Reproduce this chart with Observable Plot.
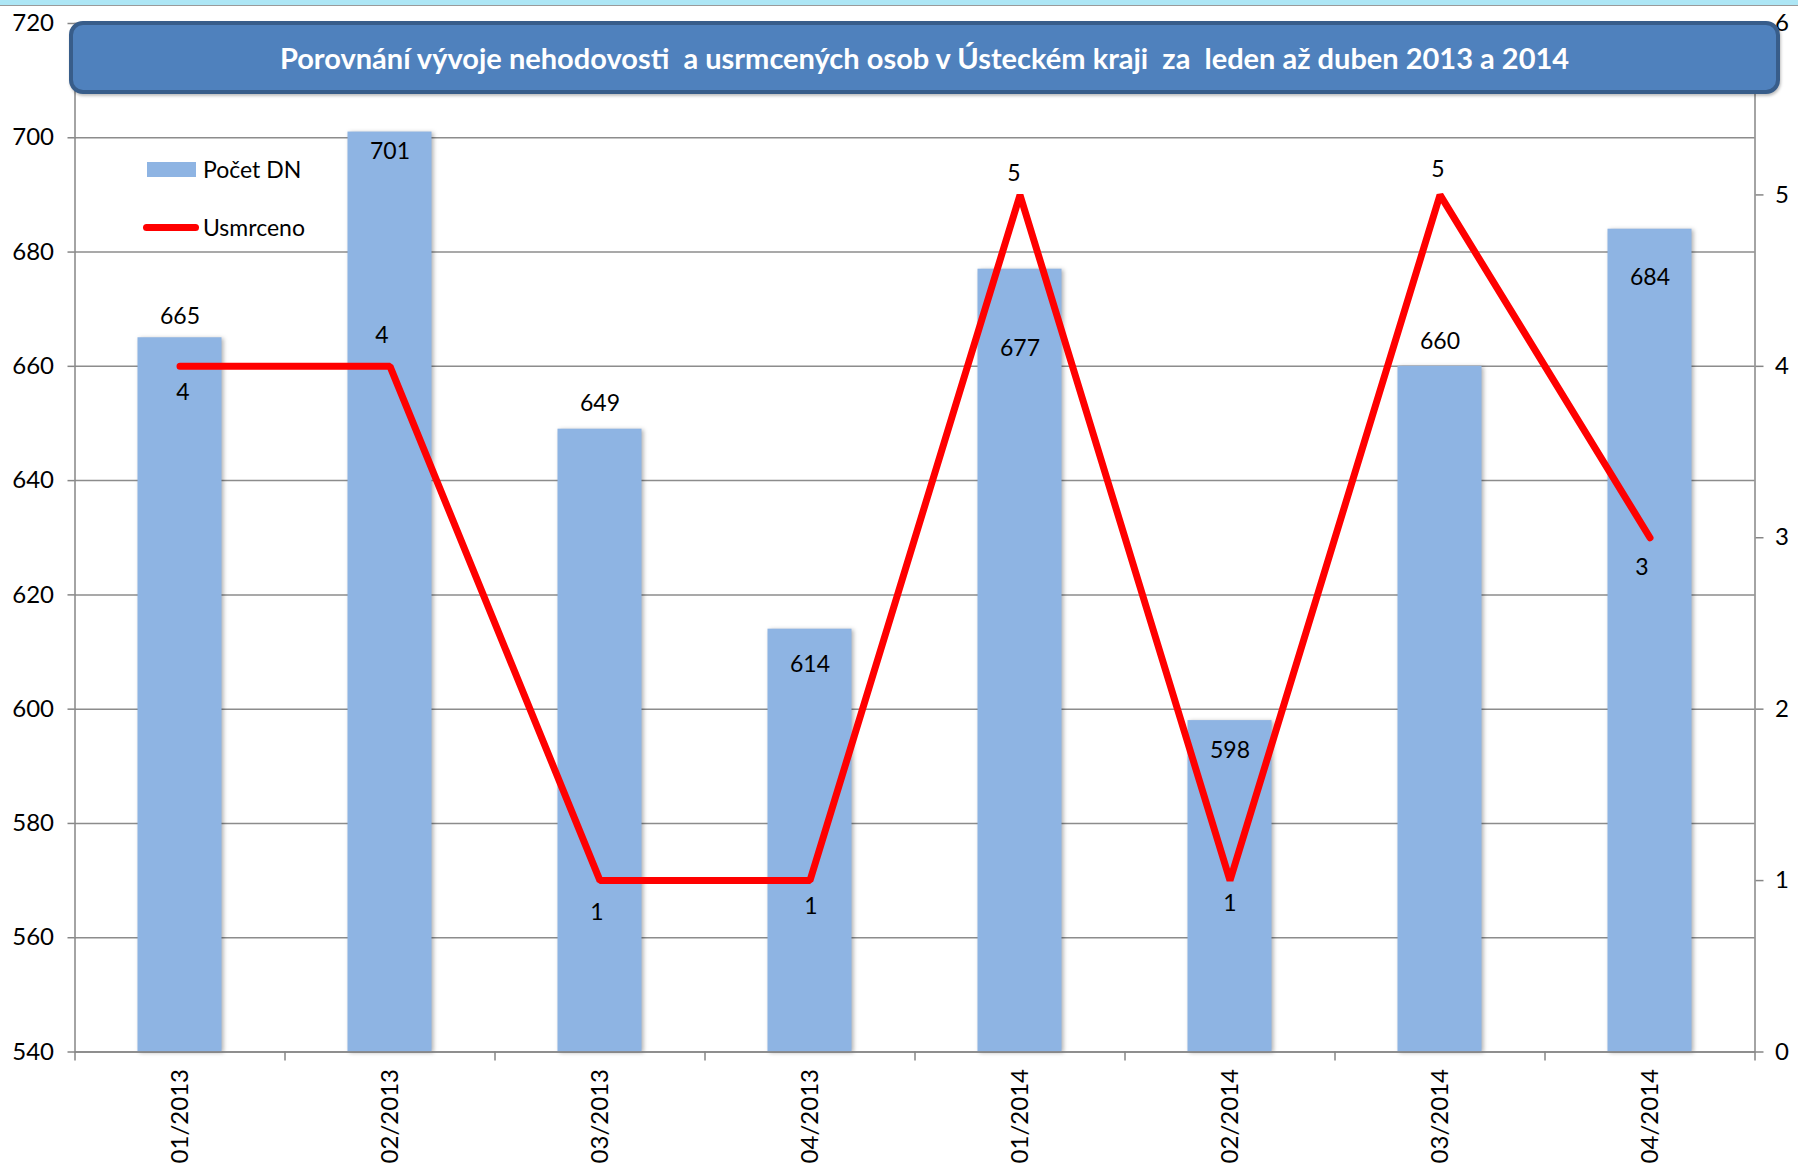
<!DOCTYPE html>
<html><head><meta charset="utf-8">
<script src="https://cdn.jsdelivr.net/npm/d3@7"></script>
<script src="https://cdn.jsdelivr.net/npm/@observablehq/plot@0.6"></script>
<style>
html,body{margin:0;padding:0;background:#fff;width:1798px;height:1168px;overflow:hidden;font-family:Lato,sans-serif}
#wrap{position:relative;width:1798px;height:1168px}
#topstrip{position:absolute;left:0;top:0;width:1798px;height:5px;background:#ade6f5;border-bottom:1px solid #9a9a9a;z-index:3}
#title{position:absolute;left:69px;top:21px;width:1711px;height:73px;box-sizing:border-box;background:#4f81bd;border:4px solid #385d8a;border-radius:14px;color:#fff;font-weight:bold;font-size:29px;display:flex;align-items:center;justify-content:center;white-space:pre;z-index:2;box-shadow:1px 2px 3px rgba(0,0,0,0.25)}
.leg{position:absolute;display:flex;align-items:center;font-size:23px;line-height:23px;color:#000;z-index:2}
#chart{position:absolute;left:0;top:0}
</style></head>
<body><div id="wrap">
<div id="topstrip"></div>
<div id="chart"></div>
<div id="title"></div>
<div class="leg" id="leg1" style="left:147px;top:158px;"><span style="display:inline-block;width:49px;height:15px;background:#8eb4e3;margin-right:7px"></span><span id="l1"></span></div>
<div class="leg" id="leg2" style="left:143px;top:216px;"><span style="display:inline-block;width:56px;height:7px;border-radius:4px;background:#ff0000;margin-right:4px"></span><span id="l2"></span></div>
</div>
<script>
const titleText = "Porovnání vývoje nehodovosti  a usrmcených osob v Ústeckém kraji  za  leden až duben 2013 a 2014";
const seriesNames = ["Počet DN", "Usmrceno"];
const months = ["01/2013","02/2013","03/2013","04/2013","01/2014","02/2014","03/2014","04/2014"];
const accidents = [665, 701, 649, 614, 677, 598, 660, 684];
const killed = [4, 4, 1, 1, 5, 1, 5, 3];
const leftTicks = [540, 560, 580, 600, 620, 640, 660, 680, 700, 720];
const rightTicks = [0, 1, 2, 3, 4, 5, 6];
// label offsets (px) as placed in the original chart
const barLabelDy = [-21, 20, -26, 35, 79, 30, -25, 48];
const lineLabelDy = [26, -31, 32, 26, -21, 23, -25, 30];
const lineLabelDx = [3, -8, -3, 1, -6, 0, -2, -8];

document.getElementById("title").textContent = titleText;
document.getElementById("l1").textContent = seriesNames[0];
document.getElementById("l2").textContent = seriesNames[1];

const W = 1798, H = 1168;
const mL = 74.5, mR = 43.5, mT = 23, mB = 116.5;
const leftDomain = [leftTicks[0], leftTicks[leftTicks.length - 1]];
const rightDomain = [rightTicks[0], rightTicks[rightTicks.length - 1]];
const toLeft = d3.scaleLinear(rightDomain, leftDomain);
const toRight = d3.scaleLinear(leftDomain, rightDomain);
const step = (W - mL - mR) / months.length;

const rows = months.map((m, i) => ({month: m, n: accidents[i], k: killed[i], kl: toLeft(killed[i])}));
const axisColor = "#868686";

const marks = [
  Plot.gridY(leftTicks, {stroke: "#8c8c8c", strokeOpacity: 1, strokeWidth: 1.5}),
  Plot.barY(rows, {x: "month", y1: leftDomain[0], y2: "n", fill: "#8eb4e3"}),
  Plot.frame({stroke: axisColor, strokeWidth: 1.5}),
  Plot.line(rows, {x: "month", y: "kl", stroke: "#ff0000", strokeWidth: 7, strokeLinejoin: "miter", strokeLinecap: "round"})
];
rows.forEach((d, i) => {
  marks.push(Plot.text([d], {x: "month", y: "n", text: d => String(d.n), dy: barLabelDy[i], fontSize: 23, fill: "black"}));
  marks.push(Plot.text([d], {x: "month", y: "kl", text: d => String(d.k), dy: lineLabelDy[i], dx: lineLabelDx[i], fontSize: 23, fill: "black"}));
});
marks.push(
  Plot.axisY(leftTicks, {anchor: "left", tickSize: 7, tickPadding: 14, stroke: axisColor, strokeWidth: 1.5, fill: "black", fontSize: 24, label: null}),
  Plot.axisY(rightTicks.map(toLeft), {anchor: "right", tickSize: 8, tickPadding: 12, stroke: axisColor, strokeWidth: 1.5, fill: "black", fontSize: 24, label: null, tickFormat: d => String(Math.round(toRight(d)))}),
  Plot.axisX(months, {anchor: "bottom", tickSize: 0, tickPadding: 17, tickRotate: -90, fill: "black", fontSize: 24, label: null}),
  Plot.axisX(months, {anchor: "bottom", tickSize: 9, stroke: axisColor, strokeWidth: 1.5, tickFormat: () => "", label: null, dx: -step / 2}),
  Plot.axisX([months[months.length - 1]], {anchor: "bottom", tickSize: 9, stroke: axisColor, strokeWidth: 1.5, tickFormat: () => "", label: null, dx: step / 2})
);

const chart = Plot.plot({
  width: W, height: H,
  marginLeft: mL, marginRight: mR, marginTop: mT, marginBottom: mB,
  style: {fontFamily: "Lato", fontSize: "24px", background: "transparent", overflow: "visible", color: "black"},
  x: {type: "band", domain: months, paddingInner: 0.6, paddingOuter: 0.3, round: false},
  y: {domain: leftDomain, nice: false},
  marks
});
document.getElementById("chart").appendChild(chart);
d3.select(chart).selectAll('g[aria-label="bar"]').style("filter", "drop-shadow(2px 1px 2px rgba(0,0,0,0.3))");
</script>
</body></html>
